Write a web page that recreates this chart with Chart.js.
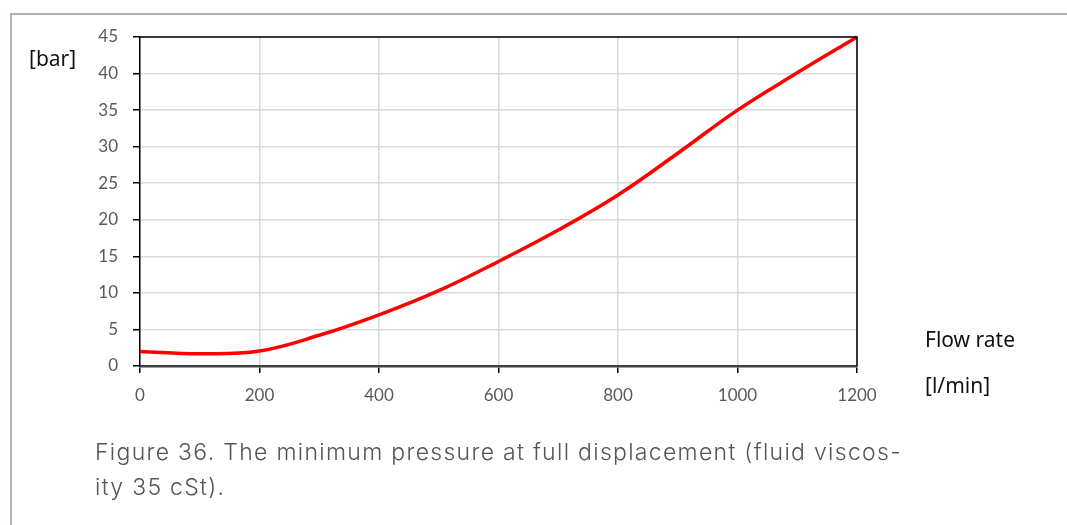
<!DOCTYPE html>
<html>
<head>
<meta charset="utf-8">
<script src="https://cdn.jsdelivr.net/npm/chart.js@4.4.1/dist/chart.umd.min.js"></script>
<style>
    html, body { margin: 0; padding: 0; background: #fff; }
    #wrap { position: relative; width: 1067px; height: 525px; overflow: hidden; }
    #frame { position: absolute; left: 10px; top: 13px; width: 1067px; height: 520px;
             border-top: 2px solid #aab3c3; border-left: 2px solid #aab3c3; }
    #chart { position: absolute; left: 0; top: 0; }
    .lbl { position: absolute; font-family: "Noto Sans", sans-serif; color: #111; font-size: 21px; white-space: nowrap; }
    #caption { position: absolute; left: 95px; top: 435px; font-family: Inter, sans-serif; font-weight: 300;
               font-size: 23px; line-height: 35px; color: #555; white-space: nowrap; letter-spacing: 1.3px; }
</style>
</head>
<body>
<div id="wrap">
    <div id="frame"></div>
    <canvas id="chart" width="1067" height="525"></canvas>
    <div class="lbl" style="left:29px; top:44px;">[bar]</div>
    <div class="lbl" style="left:925px; top:325px;">Flow rate</div>
    <div class="lbl" style="left:925px; top:371px;">[l/min]</div>
    <div id="caption">Figure 36. The minimum pressure at full displacement (fluid viscos-<br>ity 35 cSt).</div>
</div>
<script>
// ================= DATA =================
const flowRate = [0, 100, 200, 300, 400, 500, 600, 700, 800, 900, 1000, 1100, 1200];
const minPressure = [2.0, 1.68, 2.05, 4.2, 7.0, 10.3, 14.3, 18.6, 23.4, 29.1, 35.0, 40.1, 45.0];
const xTicks = [0, 200, 400, 600, 800, 1000, 1200];
const yTicks = [0, 5, 10, 15, 20, 25, 30, 35, 40, 45];

// ================= BOX AROUND PLOT =================
const boxPlugin = {
    id: "box",
    afterDatasetsDraw(chart) {
        const a = chart.chartArea;
        const ctx = chart.ctx;
        ctx.save();
        ctx.strokeStyle = "#000";
        ctx.lineWidth = 1.5;
        ctx.beginPath();
        ctx.moveTo(a.left, a.top);
        ctx.lineTo(a.right, a.top);
        ctx.lineTo(a.right, a.bottom);
        ctx.stroke();
        ctx.restore();
    }
};

const points = flowRate.map((x, i) => ({ x: x, y: minPressure[i] }));
const isMajor = v => Math.abs(v % 5) < 0.001;

new Chart(document.getElementById("chart"), {
    type: "line",
    data: {
        datasets: [{
            data: points,
            borderColor: "#ff0000",
            borderWidth: 3.5,
            pointRadius: 0,
            tension: 0.4,
            clip: false
        }]
    },
    options: {
        responsive: false,
        animation: false,
        layout: { padding: { top: 37, right: 210, left: 0, bottom: 0 } },
        plugins: { legend: { display: false }, tooltip: { enabled: false } },
        scales: {
            x: {
                type: "linear",
                min: 0,
                max: 1200,
                afterFit: s => { s.height = 159; },
                afterBuildTicks: s => { s.ticks = xTicks.map(v => ({ value: v })); },
                border: { color: "#404040", width: 2.5 },
                grid: { color: "#d9d9d9", lineWidth: 1.5, tickLength: 7, tickColor: "#000", tickWidth: 1.5 },
                ticks: {
                    padding: 12,
                    color: "#595959",
                    font: { family: "Lato", size: 17 },
                    callback: v => String(v)
                }
            },
            y: {
                min: 0,
                max: 45,
                afterFit: s => { s.width = 140; },
                ticks: {
                    stepSize: 2.5,
                    padding: 15,
                    color: "#595959",
                    font: { family: "Lato", size: 17 },
                    callback: v => isMajor(v) && yTicks.includes(v) ? String(v) : ""
                },
                border: { color: "#000", width: 1.5 },
                grid: {
                    color: c => (c.tick && isMajor(c.tick.value)) ? "#d9d9d9" : "rgba(0,0,0,0)",
                    lineWidth: 1.5,
                    tickLength: 7,
                    tickColor: "#000",
                    tickWidth: 1.5
                }
            }
        }
    },
    plugins: [boxPlugin]
});
</script>
</body>
</html>
